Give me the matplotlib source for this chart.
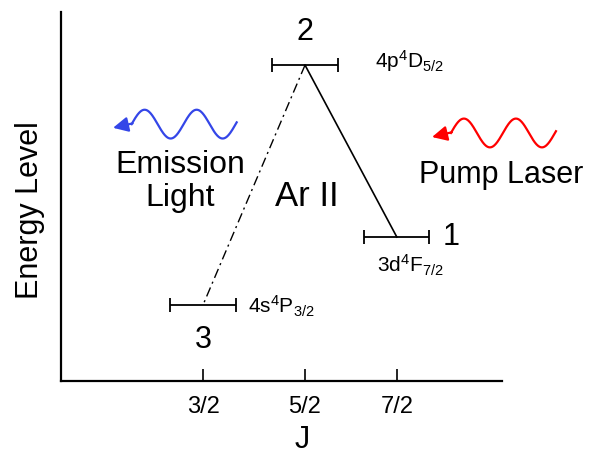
import matplotlib
matplotlib.use("Agg")
import matplotlib.pyplot as plt
import numpy as np

plt.rcParams['font.family'] = ['Liberation Sans', 'DejaVu Sans']
plt.rcParams['mathtext.fontset'] = 'custom'
plt.rcParams['mathtext.rm'] = 'Liberation Sans'
plt.rcParams['mathtext.it'] = 'Liberation Sans:italic'

# levels of Ar II
level_names = ["1", "2", "3"]
level_j = [3.4, 2.5, 1.5]          # x position of each J
level_energy = [0.39, 0.856, 0.206]
level_terms = [r"3d$^4$F$_{7/2}$", r"4p$^4$D$_{5/2}$", r"4s$^4$P$_{3/2}$"]

j_ticks = [1.5, 2.5, 3.4]
j_labels = ["3/2", "5/2", "7/2"]

fig = plt.figure(figsize=(5.89, 4.59), dpi=100)
ax = fig.add_axes([0.1036, 0.170, 0.7487, 0.804])
ax.set_xlim(0.108, 4.431)
ax.set_ylim(0, 1)

# level bars
half = 0.32
for j, e in zip(level_j, level_energy):
    ax.errorbar(j, e, xerr=half, fmt='none', ecolor='black', elinewidth=1.3,
                capsize=5, capthick=1.3)

# transitions: pump 1 -> 2 (solid), emission 2 -> 3 (dash-dot)
ax.plot([level_j[1], level_j[0]], [level_energy[1], level_energy[0]],
        color='black', lw=1.2)
ax.plot([level_j[1], level_j[2]], [level_energy[1], level_energy[2]],
        color='black', lw=1.0, linestyle=(0, (7, 3, 1.5, 3)))

# level numbers
ax.text(level_j[1], 0.945, level_names[1], fontsize=22, ha='center', va='center')
ax.text(3.932, level_energy[0], level_names[0], fontsize=22, ha='center', va='center')
ax.text(level_j[2], 0.111, level_names[2], fontsize=22, ha='center', va='center')

# term symbols
ax.text(3.186, 0.848, level_terms[1], fontsize=15, ha='left', va='baseline')
ax.text(3.206, 0.293, level_terms[0], fontsize=15, ha='left', va='baseline')
ax.text(1.941, 0.184, level_terms[2], fontsize=15, ha='left', va='baseline')

ax.text(2.52, 0.499, "Ar II", fontsize=25, ha='center', va='center')
ax.text(1.275, 0.541, "Emission\nLight", fontsize=23, ha='center', va='center',
        multialignment='center', linespacing=1.12)
ax.text(4.422, 0.558, "Pump Laser", fontsize=22, ha='center', va='center',
        clip_on=False)


# wavy photons
def photon(x0, x1, yc, tip, color):
    period = 0.51
    amp = 0.039
    x = np.linspace(x0, x1, 200)
    y = yc + amp * np.sin(2 * np.pi * (x - x0) / period)
    ax.plot(x, y, color=color, lw=1.6, clip_on=False)
    ax.annotate("", xy=tip, xytext=(x0 + 0.01, yc + 0.002),
                arrowprops=dict(arrowstyle='-|>,head_length=0.6,head_width=0.3',
                                mutation_scale=15, color=color, lw=1.6,
                                shrinkA=0, shrinkB=0),
                annotation_clip=False)


photon(0.80, 1.83, 0.696, (0.618, 0.686), '#3446e8')
photon(3.93, 4.96, 0.672, (3.745, 0.661), '#ff0000')

# axes styling
ax.spines['top'].set_visible(False)
ax.spines['right'].set_visible(False)
ax.spines['left'].set_linewidth(1.6)
ax.spines['bottom'].set_linewidth(1.6)
ax.set_yticks([])
ax.set_xticks(j_ticks)
ax.set_xticklabels(j_labels)
ax.tick_params(axis='x', direction='in', length=9, width=1.2, pad=11, labelsize=17)

ax.set_ylabel("Energy Level", fontsize=22, va='center')
ax.yaxis.set_label_coords(-0.07, 0.463)
ax.set_xlabel("J", fontsize=22, va='center')
ax.xaxis.set_label_coords(0.548, -0.16)

fig.savefig("out.png", dpi=100)
